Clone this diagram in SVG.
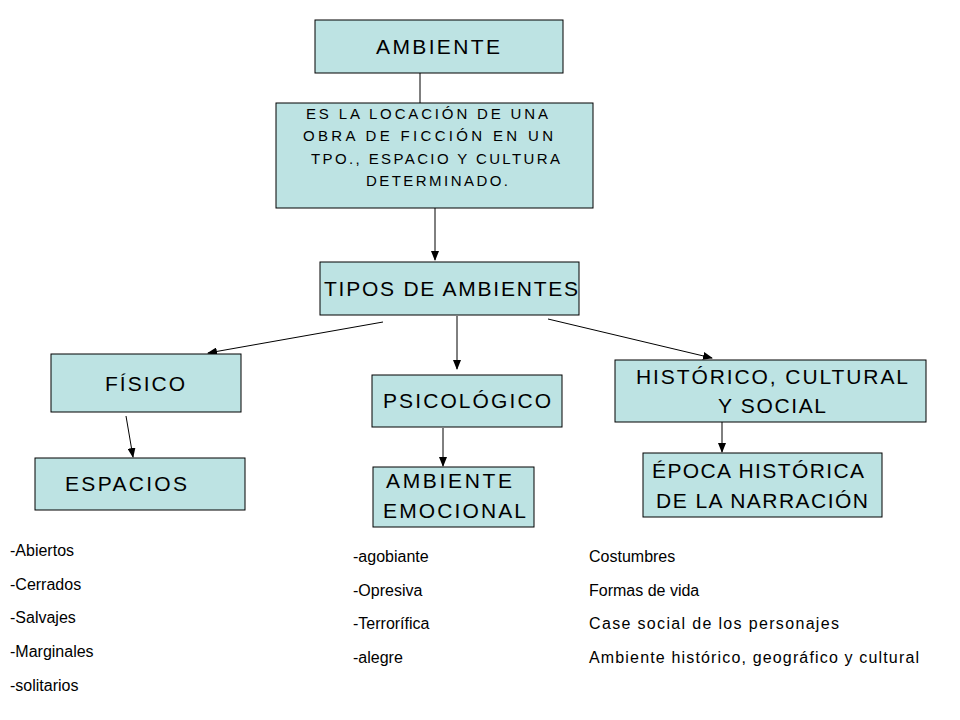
<svg xmlns="http://www.w3.org/2000/svg" width="960" height="720" viewBox="0 0 960 720">
<defs>
<style>
.b{fill:#bde3e3;stroke:#000;stroke-width:1}
.t{font-family:"Liberation Sans",Arial,sans-serif;font-size:21px;fill:#000}
.s{font-family:"Liberation Sans",Arial,sans-serif;font-size:15px;fill:#000}
.l{font-family:"Liberation Sans",Arial,sans-serif;font-size:16px;fill:#000}
.c{stroke:#000;stroke-width:1;fill:none}
</style>
<marker id="a" markerWidth="10" markerHeight="8" refX="9" refY="4" orient="auto" markerUnits="userSpaceOnUse"><path d="M0,0L10,4L0,8z" fill="#000"/></marker>
</defs>
<rect width="960" height="720" fill="#fff"/>
<g id="connectors">
<line class="c" x1="420" y1="73" x2="420" y2="103"/>
<line class="c" x1="435" y1="208" x2="435" y2="260" marker-end="url(#a)"/>
<line class="c" x1="383" y1="322" x2="208" y2="353" marker-end="url(#a)"/>
<line class="c" x1="457" y1="316" x2="457" y2="369" marker-end="url(#a)"/>
<line class="c" x1="548" y1="319" x2="712" y2="358" marker-end="url(#a)"/>
<line class="c" x1="126" y1="416" x2="133" y2="457" marker-end="url(#a)"/>
<line class="c" x1="443" y1="428" x2="443" y2="466" marker-end="url(#a)"/>
<line class="c" x1="722" y1="422" x2="722" y2="452" marker-end="url(#a)"/>
</g>
<g id="ambiente"><rect class="b" x="315" y="20" width="248" height="53"/><text class="t" x="376" y="54" textLength="124">AMBIENTE</text></g>
<g id="def"><rect class="b" x="276" y="103" width="317" height="105"/>
<text class="s" x="306" y="119" textLength="242">ES LA LOCACIÓN DE UNA</text>
<text class="s" x="303" y="141" textLength="250">OBRA DE FICCIÓN EN UN</text>
<text class="s" x="311" y="164" textLength="249">TPO., ESPACIO Y CULTURA</text>
<text class="s" x="366" y="186" textLength="142">DETERMINADO.</text></g>
<g id="tipos"><rect class="b" x="320" y="262" width="259" height="53"/><text class="t" x="324" y="296" textLength="254">TIPOS DE AMBIENTES</text></g>
<g id="fisico"><rect class="b" x="51" y="354" width="190" height="58"/><text class="t" x="105" y="391" textLength="80">FÍSICO</text></g>
<g id="psico"><rect class="b" x="372" y="375" width="190" height="52"/><text class="t" x="383" y="408" textLength="168">PSICOLÓGICO</text></g>
<g id="hist"><rect class="b" x="615" y="360" width="311" height="62"/><text class="t" x="636" y="384" textLength="272">HISTÓRICO, CULTURAL</text><text class="t" x="718" y="413" textLength="108">Y SOCIAL</text></g>
<g id="espacios"><rect class="b" x="35" y="458" width="210" height="52"/><text class="t" x="65" y="491" textLength="122">ESPACIOS</text></g>
<g id="emocional"><rect class="b" x="373" y="467" width="161" height="60"/><text class="t" x="386" y="488" textLength="126">AMBIENTE</text><text class="t" x="383" y="518" textLength="143">EMOCIONAL</text></g>
<g id="epoca"><rect class="b" x="643" y="453" width="239" height="64"/><text class="t" x="652" y="478" textLength="212">ÉPOCA HISTÓRICA</text><text class="t" x="656" y="508" textLength="212">DE LA NARRACIÓN</text></g>
<g id="lists">
<text class="l" x="10" y="556">-Abiertos</text>
<text class="l" x="10" y="590">-Cerrados</text>
<text class="l" x="10" y="623">-Salvajes</text>
<text class="l" x="10" y="657">-Marginales</text>
<text class="l" x="10" y="691">-solitarios</text>
<text class="l" x="353" y="562">-agobiante</text>
<text class="l" x="353" y="596">-Opresiva</text>
<text class="l" x="353" y="629">-Terrorífica</text>
<text class="l" x="353" y="663">-alegre</text>
<text class="l" x="589" y="562">Costumbres</text>
<text class="l" x="589" y="596">Formas de vida</text>
<text class="l" x="589" y="629" textLength="250">Case social de los personajes</text>
<text class="l" x="589" y="663" textLength="330">Ambiente histórico, geográfico y cultural</text>
</g>
</svg>
